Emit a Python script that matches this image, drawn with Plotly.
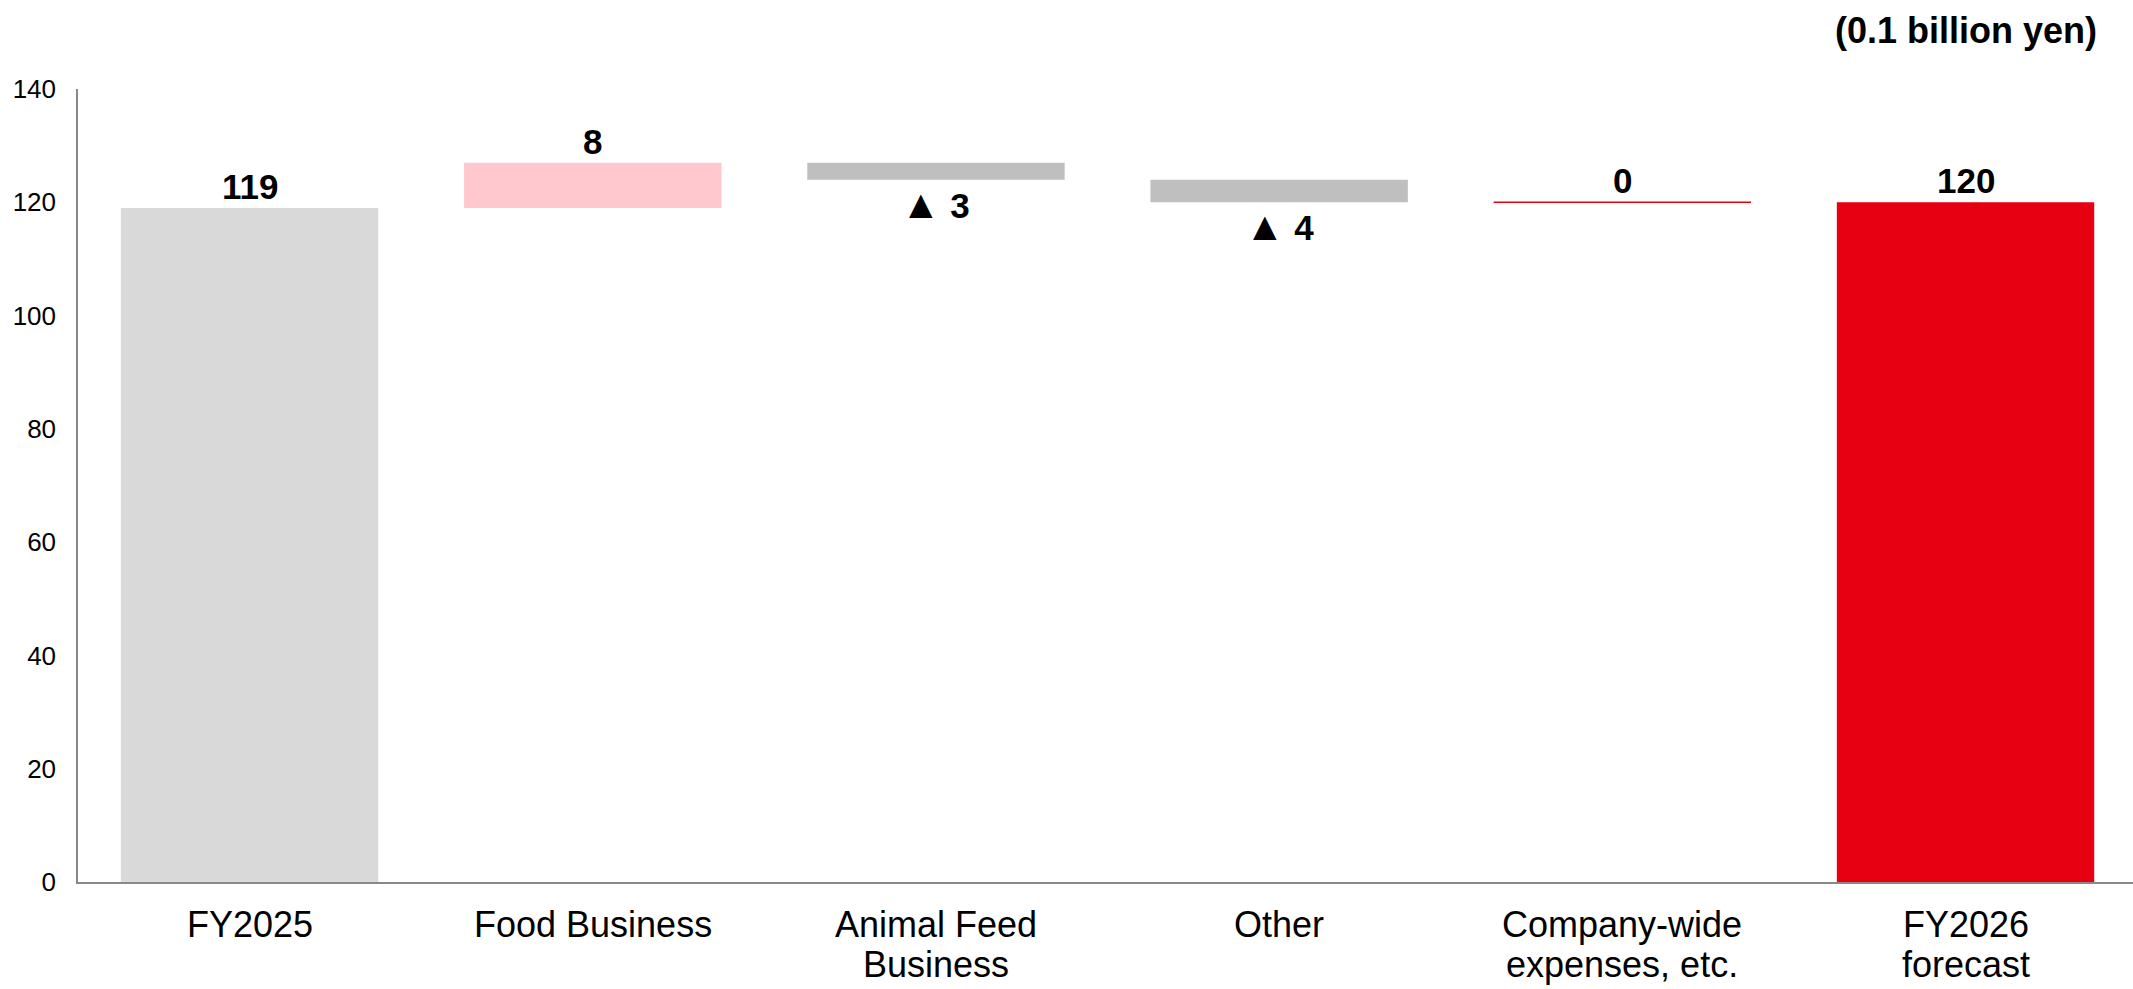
import plotly.graph_objects as go

# Ordinary income bridge, FY2025 -> FY2026 forecast (0.1 billion yen)
categories = ["FY2025", "Food Business", "Animal Feed<br>Business", "Other",
              "Company-wide<br>expenses, etc.", "FY2026<br>forecast"]
measures = ["total", "delta", "delta", "delta", "delta", "total"]
values = [119, 8, -3, -4, 0, 120]
bar_colors = ["#D9D9D9", "#FFC7CE", "#BFBFBF", "#BFBFBF", "#E60012", "#E60012"]
y_ticks = [0, 20, 40, 60, 80, 100, 120, 140]

FONT = "Liberation Sans, Arial, sans-serif"
BAR_WIDTH = 0.75
AXIS_COLOR = "#898989"
CAT_FONT = 36
CAT_LINE = 40   # tighter line pitch than plotly's built-in tick label spacing

# Stack the deltas on a running total; totals start from zero
xs, bases, heights, ends = [], [], [], []
running = 0
for i, (m, v) in enumerate(zip(measures, values)):
    if m == "total":
        base, h = 0, v
        running = v
    else:
        base, h = running, v
        running += v
    xs.append(i)
    bases.append(base)
    heights.append(h)
    ends.append(base + h)

fig = go.Figure()
fig.add_trace(go.Bar(
    x=xs, y=heights, base=bases, width=BAR_WIDTH,
    marker=dict(color=bar_colors, line=dict(width=0)),
    hoverinfo="skip", showlegend=False,
))

# A zero change is drawn as a thin line at the running level
for i, (m, h) in enumerate(zip(measures, heights)):
    if m == "delta" and h == 0:
        fig.add_trace(go.Scatter(
            x=[i - BAR_WIDTH / 2, i + BAR_WIDTH / 2], y=[ends[i], ends[i]],
            mode="lines", line=dict(color=bar_colors[i], width=1.5),
            hoverinfo="skip", showlegend=False,
        ))

# Value labels: above rising bars, below falling ones (▲ marks a decrease)
for i, (v, e) in enumerate(zip(values, ends)):
    if v < 0:
        label = f"<span style='font-size:40px'>▲</span> {abs(v)}"
    else:
        label = f"{v}"
    fig.add_annotation(
        x=i, y=e, text=f"<b>{label}</b>", showarrow=False,
        yanchor="top" if v < 0 else "bottom",
        font=dict(family=FONT, size=35, color="#000000"),
    )

# Category labels under the axis, one annotation per line
for i, cat in enumerate(categories):
    for k, line in enumerate(cat.split("<br>")):
        fig.add_annotation(
            x=i, xref="x", y=0, yref="paper", yanchor="middle",
            yshift=-42 - k * CAT_LINE, text=line, showarrow=False,
            font=dict(family=FONT, size=CAT_FONT, color="#000000"),
        )

fig.add_annotation(
    xref="paper", yref="paper", x=1, y=1, xanchor="right", yanchor="middle",
    xshift=-34, yshift=59, text="<b>(0.1 billion yen)</b>", showarrow=False,
    font=dict(family=FONT, size=36, color="#000000"),
)

fig.update_layout(
    width=2133, height=989,
    margin=dict(l=78, r=0, t=89, b=107),
    paper_bgcolor="white", plot_bgcolor="white",
    font=dict(family=FONT, color="#000000"),
    xaxis=dict(
        range=[-0.5, len(categories) - 0.512],
        tickvals=xs, showticklabels=False,
        showline=True, linecolor=AXIS_COLOR, linewidth=1.5,
        showgrid=False, zeroline=False, ticks="", automargin=False,
    ),
    yaxis=dict(
        range=[0, 140], tickvals=y_ticks,
        tickfont=dict(size=26, color="#000000"),
        showline=True, linecolor=AXIS_COLOR, linewidth=1.5,
        showgrid=False, zeroline=False, ticks="",
        ticklabelstandoff=15, automargin=False,
    ),
)

fig.write_html("out.html")
